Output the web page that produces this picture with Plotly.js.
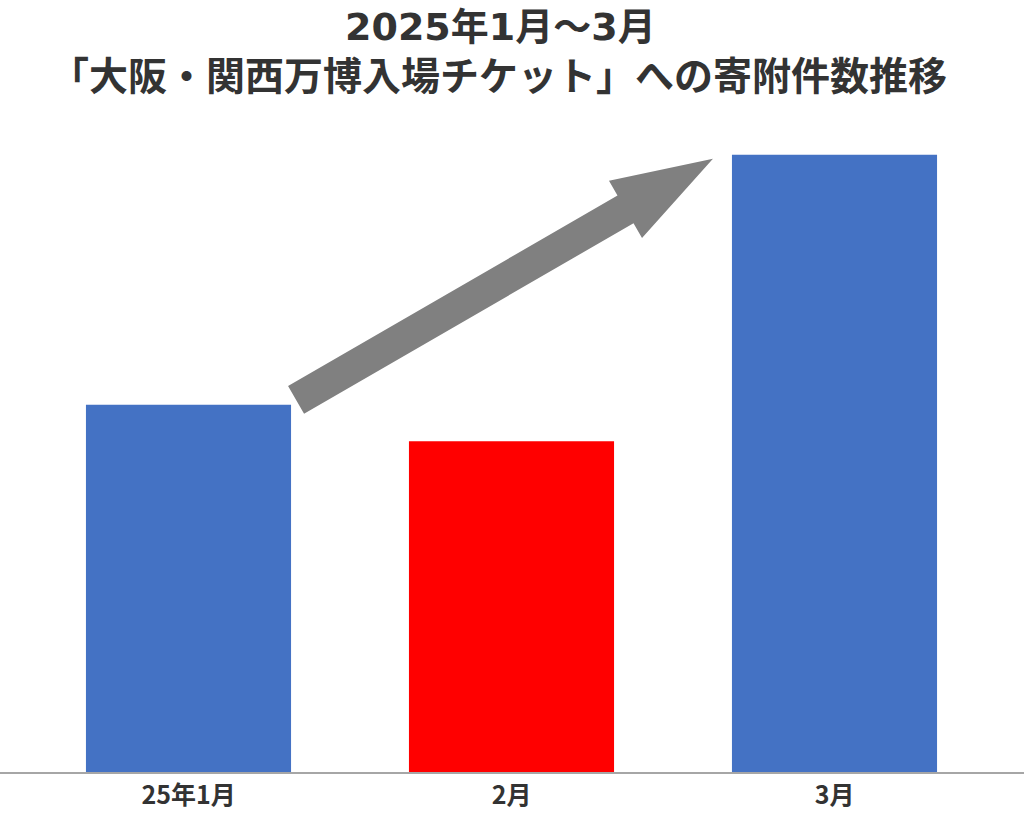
<!DOCTYPE html>
<html>
<head>
<meta charset="utf-8">
<script src="https://cdn.plot.ly/plotly-3.0.1.min.js"></script>
<style>html,body{margin:0;padding:0;background:#fff;}#chart{width:1024px;height:824px;}</style>
</head>
<body>
<div id="chart"></div>
<script>
// ---- data (relative index, March = 100) ----
const categories = ["25年1月", "2月", "3月"];
const values = [59.5, 53.6, 100];
const barColors = ["#4472C4", "#FF0000", "#4472C4"];
const titleLines = ["2025年1月～3月", "「大阪・関西万博入場チケット」への寄附件数推移"];

// ---- layout constants ----
const W = 1024, H = 824;
const mT = 124, mB = 52;
const plotH = H - mT - mB;
const xRange = [-0.5836, 2.5867];
const yRange = [0, 105];
const barWidth = 0.635;

const xPx = v => (v - xRange[0]) / (xRange[1] - xRange[0]) * W;
const yPx = v => mT + (yRange[1] - v) / (yRange[1] - yRange[0]) * plotH;
const yPaper = py => (H - mB - py) / plotH;

// arrow from top-right of first bar to top-left of last bar
const last = values.length - 1;
const tail = [xPx(0 + barWidth / 2) + 5, yPx(values[0]) - 5];
const tip = [xPx(last - barWidth / 2) - 19, yPx(values[last]) + 4];
const dx = tip[0] - tail[0], dy = tip[1] - tail[1];
const len = Math.hypot(dx, dy);
const u = [dx / len, dy / len];
const n = [-u[1], u[0]];
const shaftHalf = 16, headHalf = 33, headLen = 101;
const base = [tip[0] - u[0] * headLen, tip[1] - u[1] * headLen];
const pts = [
  [tail[0] + n[0] * shaftHalf, tail[1] + n[1] * shaftHalf],
  [base[0] + n[0] * shaftHalf, base[1] + n[1] * shaftHalf],
  [base[0] + n[0] * headHalf, base[1] + n[1] * headHalf],
  tip,
  [base[0] - n[0] * headHalf, base[1] - n[1] * headHalf],
  [base[0] - n[0] * shaftHalf, base[1] - n[1] * shaftHalf],
  [tail[0] - n[0] * shaftHalf, tail[1] - n[1] * shaftHalf]
];
const toPaper = p => [(p[0] / W).toFixed(5), yPaper(p[1]).toFixed(5)];
const path = pts.map((p, i) => (i ? "L" : "M") + toPaper(p).join(",")).join(" ") + " Z";

const font = '"Noto Sans CJK JP", "Noto Sans", sans-serif';
const titleFonts = ['"DejaVu Sans", "Noto Sans CJK JP", sans-serif', font];
const titleSizes = [38, 39];

const trace = {
  type: "bar",
  x: categories,
  y: values,
  width: barWidth,
  marker: {color: barColors, line: {width: 0}},
  hoverinfo: "none"
};

const titleY = [27, 73];
const annotations = titleLines.map((t, i) => ({
  text: "<b>" + t + "</b>",
  xref: "paper", yref: "paper",
  x: i === 0 ? 0.489 : 0.487, y: yPaper(titleY[i]),
  xanchor: "center", yanchor: "middle",
  showarrow: false,
  font: {family: titleFonts[i], size: titleSizes[i], color: "#333333"}
}));

const layout = {
  width: W, height: H,
  margin: {l: 0, r: 0, t: mT, b: mB, pad: 0},
  paper_bgcolor: "#fff",
  plot_bgcolor: "#fff",
  showlegend: false,
  xaxis: {
    type: "category",
    range: xRange,
    showgrid: false,
    zeroline: false,
    showline: true,
    linecolor: "#a6a6a6",
    linewidth: 1.5,
    ticks: "",
    tickfont: {family: font, size: 25, color: "#333333", weight: "bold"},
    fixedrange: true
  },
  yaxis: {
    range: yRange,
    visible: false,
    showgrid: false,
    zeroline: false,
    fixedrange: true
  },
  annotations: annotations,
  shapes: [{
    type: "path",
    xref: "paper", yref: "paper",
    path: path,
    fillcolor: "#808080",
    line: {width: 0},
    layer: "above"
  }]
};

Plotly.newPlot("chart", [trace], layout, {staticPlot: true, displayModeBar: false});
</script>
</body>
</html>
